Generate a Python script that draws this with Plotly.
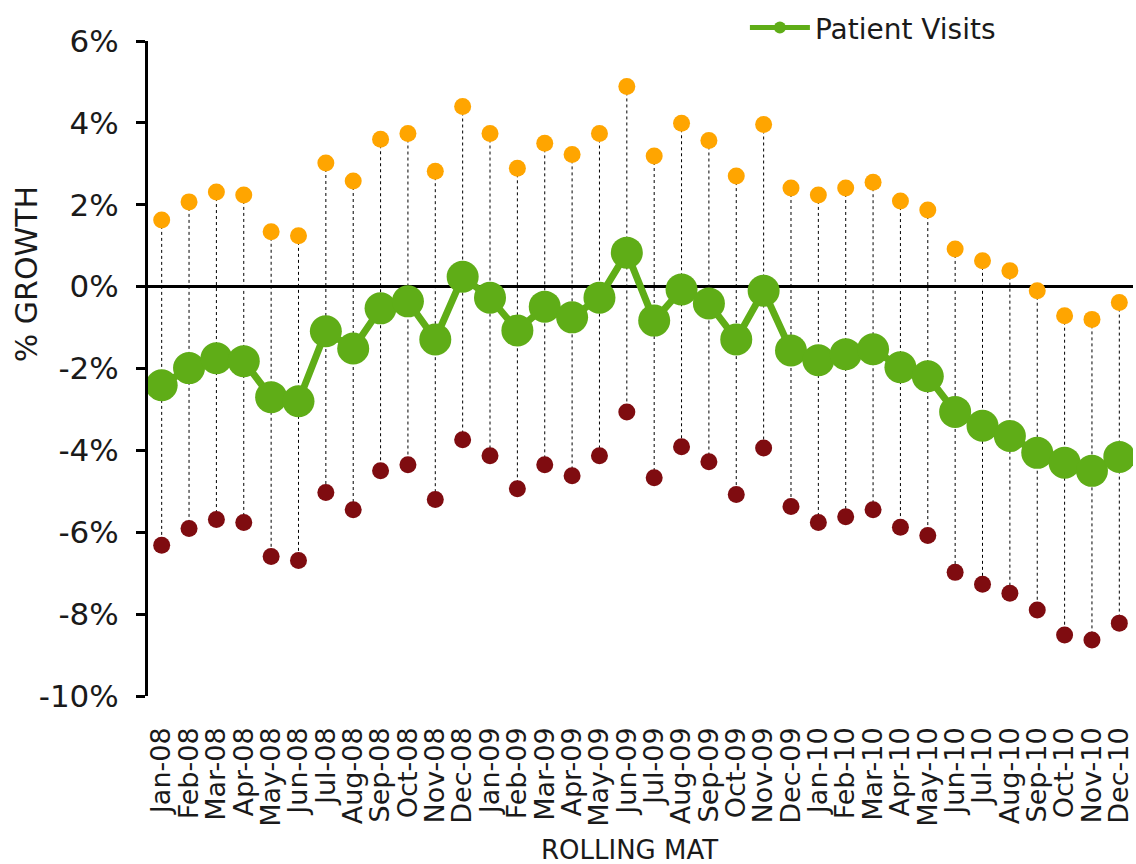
import plotly.graph_objects as go

# --- data ---
months = ["Jan-08", "Feb-08", "Mar-08", "Apr-08", "May-08", "Jun-08",
          "Jul-08", "Aug-08", "Sep-08", "Oct-08", "Nov-08", "Dec-08",
          "Jan-09", "Feb-09", "Mar-09", "Apr-09", "May-09", "Jun-09",
          "Jul-09", "Aug-09", "Sep-09", "Oct-09", "Nov-09", "Dec-09",
          "Jan-10", "Feb-10", "Mar-10", "Apr-10", "May-10", "Jun-10",
          "Jul-10", "Aug-10", "Sep-10", "Oct-10", "Nov-10", "Dec-10"]

patient_visits = [-2.41, -1.99, -1.75, -1.82, -2.70, -2.80,
                  -1.09, -1.51, -0.53, -0.36, -1.29, 0.24,
                  -0.27, -1.07, -0.49, -0.75, -0.27, 0.83,
                  -0.83, -0.07, -0.41, -1.29, -0.10, -1.56,
                  -1.80, -1.65, -1.53, -1.97, -2.19, -3.06,
                  -3.40, -3.65, -4.06, -4.30, -4.50, -4.16]

upper = [1.63, 2.07, 2.31, 2.24, 1.34, 1.24,
         3.02, 2.58, 3.60, 3.74, 2.82, 4.40,
         3.74, 2.89, 3.50, 3.23, 3.74, 4.89,
         3.19, 3.99, 3.57, 2.70, 3.96, 2.41,
         2.24, 2.41, 2.55, 2.09, 1.87, 0.92,
         0.63, 0.39, -0.10, -0.71, -0.80, -0.39]

lower = [-6.32, -5.91, -5.69, -5.76, -6.59, -6.69,
         -5.03, -5.45, -4.50, -4.35, -5.20, -3.74,
         -4.13, -4.94, -4.35, -4.62, -4.13, -3.06,
         -4.67, -3.91, -4.28, -5.08, -3.94, -5.37,
         -5.76, -5.62, -5.45, -5.88, -6.08, -6.98,
         -7.27, -7.49, -7.90, -8.51, -8.63, -8.22]

y_ticks = [6, 4, 2, 0, -2, -4, -6, -8, -10]
y_tick_labels = ["6%", "4%", "2%", "0%", "-2%", "-4%", "-6%", "-8%", "-10%"]

FONT = "Verdana, DejaVu Sans, sans-serif"
TEXT = "#1a1a1a"

# dotted drop lines joining upper and lower dots
drop_x, drop_y = [], []
for m, hi, lo in zip(months, upper, lower):
    drop_x += [m, m, None]
    drop_y += [hi, lo, None]

fig = go.Figure()

fig.add_trace(go.Scatter(
    x=drop_x, y=drop_y, mode="lines",
    line=dict(color="black", width=1, dash="dot"),
    showlegend=False, hoverinfo="skip"
))

fig.add_trace(go.Scatter(
    x=months, y=upper, mode="markers",
    marker=dict(color="#FFA500", size=17),
    showlegend=False
))

fig.add_trace(go.Scatter(
    x=months, y=lower, mode="markers",
    marker=dict(color="#7F0C10", size=17),
    showlegend=False
))

fig.add_trace(go.Scatter(
    x=months, y=patient_visits, mode="lines+markers",
    name="Patient Visits",
    line=dict(color="#5FAD17", width=7),
    marker=dict(color="#5FAD17", size=32)
))

fig.update_layout(
    width=1136, height=864,
    margin=dict(l=148, r=3, t=38, b=168),
    paper_bgcolor="white", plot_bgcolor="white",
    font=dict(family=FONT, size=28, color=TEXT),
    showlegend=True,
    # legend sits just above the plot, anchored on its middle so the top margin is not pushed
    legend=dict(x=0.606, xanchor="left", y=1.02, yanchor="middle",
                orientation="h", font=dict(size=28),
                itemwidth=60, itemsizing="constant",
                bgcolor="rgba(0,0,0,0)"),
    xaxis=dict(
        type="category", range=[-0.5, 35.5],
        tickmode="array", tickvals=months, ticktext=months,
        tickangle=-90, tickfont=dict(size=27),
        ticklabelstandoff=25,
        showline=False, showgrid=False, zeroline=False, ticks=""
    ),
    yaxis=dict(
        range=[-10, 6], tickvals=y_ticks, ticktext=y_tick_labels,
        tickfont=dict(size=31), ticklabelstandoff=11,
        showline=True, linecolor="black", linewidth=3,
        ticks="outside", ticklen=9, tickwidth=3, tickcolor="black",
        showgrid=False,
        zeroline=True, zerolinecolor="black", zerolinewidth=3
    ),
    annotations=[
        dict(text="% GROWTH", textangle=-90, showarrow=False,
             xref="paper", x=0, xshift=-122, xanchor="center",
             yref="paper", y=0.644, yanchor="middle",
             font=dict(size=30, color=TEXT)),
        dict(text="ROLLING MAT", showarrow=False,
             xref="paper", x=0.489, xanchor="center",
             yref="paper", y=0, yshift=-154, yanchor="middle",
             font=dict(size=26, color=TEXT)),
    ]
)

fig.write_html("out.html",
               config={"displayModeBar": False},
               post_script="document.body.style.margin='0';")
